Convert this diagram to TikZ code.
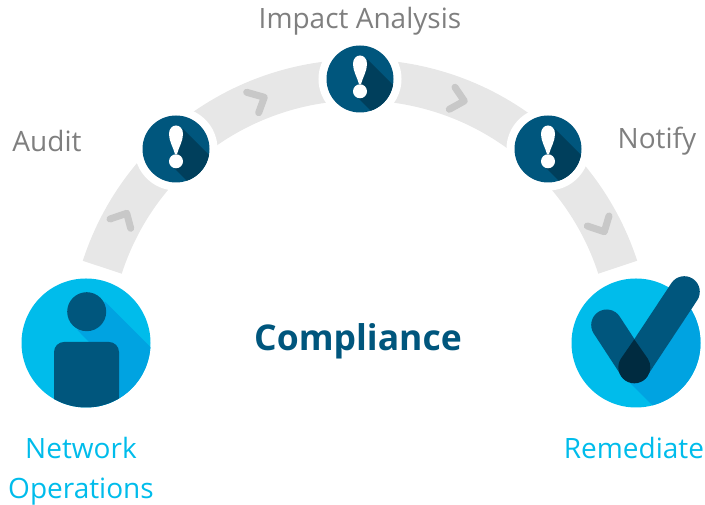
\documentclass[tikz,border=0pt]{standalone}
\usepackage{fontspec}
\setmainfont{Open Sans}
\usepackage{tikz}
\definecolor{bandgray}{HTML}{E7E7E7}
\definecolor{chevrongray}{HTML}{C8C8C8}
\definecolor{labelgray}{HTML}{7F7F7F}
\definecolor{skyblue}{HTML}{00BCEB}
\definecolor{deepsky}{HTML}{00A3E1}
\definecolor{navy}{HTML}{00567D}
\definecolor{darknavy}{HTML}{003F5C}
\definecolor{inknavy}{HTML}{002B40}

\begin{document}
\begin{tikzpicture}[x=1pt,y=1pt,
  chevron/.style={draw=chevrongray, line width=7pt, line cap=round, line join=round},
  alert/.style={circle, inner sep=0pt, outer sep=0pt, minimum size=67pt, fill=navy, preaction={draw=white, line width=16pt},
    path picture={\fill[darknavy] (7,20) -- (47,-20) -- (37,-58) -- (-3,-18) -- cycle;}},
  badge/.style={circle, inner sep=0pt, outer sep=0pt, minimum size=129pt, fill=skyblue},
  graylabel/.style={text=labelgray, font=\fontsize{28}{36}\selectfont, inner sep=0pt},
  bluelabel/.style={text=skyblue, font=\fontsize{28}{40}\selectfont, align=center, inner sep=0pt}]
  \useasboundingbox (0,0) rectangle (705,505);
  % arc behind the dots
  \coordinate (hub) at (360,154);
  \draw[bandgray, line width=41pt] (hub) ++(162:271) arc[start angle=162, end angle=18, radius=271];
  \draw[chevron] (110,286) -- (126.7,291.7) -- (130.7,276.7);
  \draw[chevron] (246.7,412.7) -- (264.3,407.7) -- (258.7,392.3);
  \draw[chevron] (455,417.7) -- (464.3,404) -- (449.3,395.7);
  \draw[chevron] (587.3,279) -- (604.3,273.3) -- (609,289);
  % alert dots
  \foreach \name/\px/\py in {audit/176/356, impact/360/426, notify/548/356} {
    \node[alert] (\name) at (\px,\py) {};
    \fill[white, shift={(\name.center)}] (-1,-5) .. controls (-3,2) and (-7,8) .. (-7,15) .. controls (-7,20) and (-4,23.5) .. (0,23.5) .. controls (4,23.5) and (7,20) .. (7,15) .. controls (7,8) and (3,2) .. (1,-5) -- cycle;
    \fill[white, shift={(\name.center)}] (0,-12.3) circle[radius=7];
  }
  % person
  \node[badge, path picture={
    \fill[deepsky] (19,41.3) -- (99,-38.7) -- (99,-87) -- (9,-87) -- (9,-5) -- (-8.7,13) -- cycle;
    \fill[navy] (-32,-102) -- (-32,-9) arc[start angle=180, end angle=90, radius=10] -- (23,1) arc[start angle=90, end angle=0, radius=10] -- (33,-102) -- cycle;
  }] (operations) at (86,162) {};
  \fill[navy] (86.7,193.3) circle[radius=19.5];
  % check
  \node[badge, path picture={
    \fill[deepsky] (-6,-40) -- (24,-70) -- (84,-70) -- (84,51) -- (48,51) -- (-1.7,-24) -- cycle;
  }] (remediate) at (636,162) {};
  \draw[navy, line width=31pt, line cap=round] (606.7,180) -- (634.3,137.7);
  \draw[navy, line width=31pt, line cap=round] (684.3,213.3) -- (634.3,137.7);
  \fill[inknavy] (634.3,165.7) -- (621,146.5) arc[start angle=146.5, end angle=393, radius=16] -- cycle;
  % labels
  \node[graylabel] (auditlabel) at (47,364) {Audit};
  \node[graylabel] (impactlabel) at (360,484) {Impact Analysis};
  \node[graylabel] (notifylabel) at (657,364) {Notify};
  \node[bluelabel] (operationslabel) at (81,34) {Network\\Operations};
  \node[bluelabel] (remediatelabel) at (634,57) {Remediate};
  \node[text=navy, inner sep=0pt, font=\fontsize{35.5}{42}\selectfont\bfseries] (compliance) at (358,164) {Compliance};
\end{tikzpicture}
\end{document}
